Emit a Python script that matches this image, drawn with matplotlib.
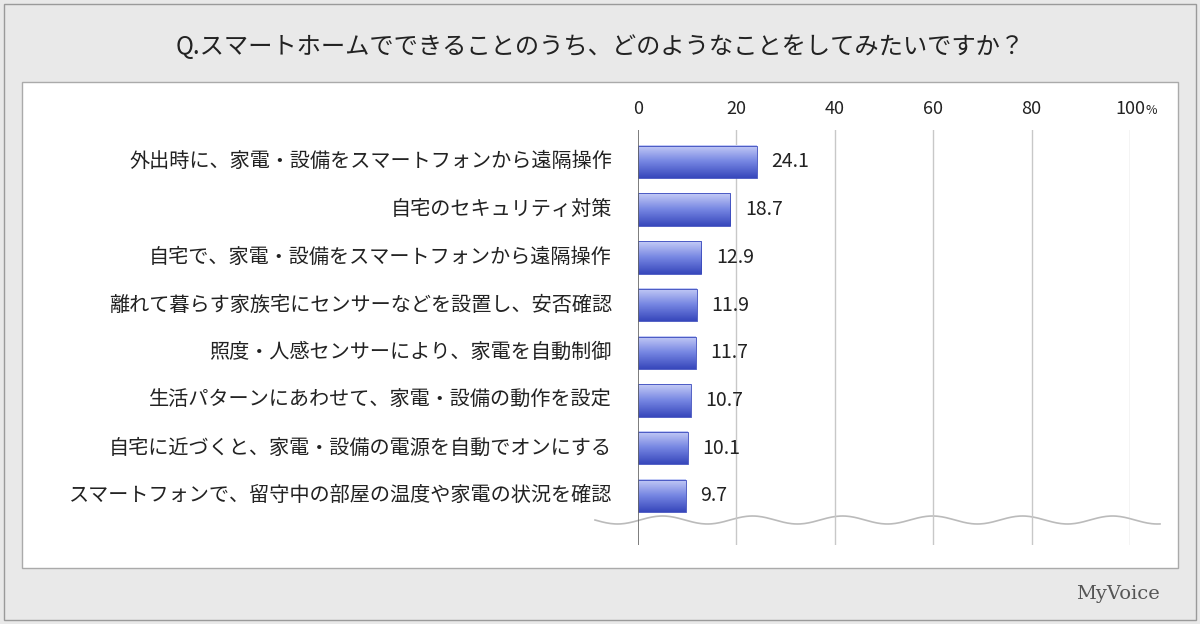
import matplotlib
matplotlib.use("Agg")
import matplotlib.pyplot as plt
import numpy as np
from matplotlib.patches import Rectangle
from matplotlib.colors import LinearSegmentedColormap

plt.rcParams["font.family"] = "Noto Sans CJK JP"

title = "Q.スマートホームでできることのうち、どのようなことをしてみたいですか？"
categories = ["外出時に、家電・設備をスマートフォンから遠隔操作", "自宅のセキュリティ対策",
              "自宅で、家電・設備をスマートフォンから遠隔操作", "離れて暮らす家族宅にセンサーなどを設置し、安否確認",
              "照度・人感センサーにより、家電を自動制御", "生活パターンにあわせて、家電・設備の動作を設定",
              "自宅に近づくと、家電・設備の電源を自動でオンにする", "スマートフォンで、留守中の部屋の温度や家電の状況を確認"]
values = [24.1, 18.7, 12.9, 11.9, 11.7, 10.7, 10.1, 9.7]
ticks = [0, 20, 40, 60, 80, 100]

fig = plt.figure(figsize=(12, 6.24), dpi=100)
fig.patch.set_facecolor("#e9e9e9")
bg = fig.add_axes([0, 0, 1, 1]); bg.set_xlim(0, 1200); bg.set_ylim(624, 0); bg.axis("off")
bg.add_patch(Rectangle((4, 4), 1192, 616, fc="#e9e9e9", ec="#9a9a9a", lw=1))
bg.add_patch(Rectangle((22, 82), 1156, 486, fc="white", ec="#aaaaaa", lw=1))
bg.text(600, 47, title, ha="center", va="center", fontsize=17.5, color="#222")
bg.text(1160, 594, "MyVoice", ha="right", va="center", fontsize=14, color="#555", family="DejaVu Serif")
xs = np.linspace(595, 1160, 400)
bg.plot(xs, 520 + 4*np.sin((xs-595)/90*2*np.pi), color="#bbbbbb", lw=1.2)

ax = fig.add_axes([638/1200, 1-545/624, 492/1200, 415/624])
ax.set_facecolor("none")
for s in ax.spines.values(): s.set_visible(False)
ax.set_xticks([]); ax.set_yticks([])
for t in ticks[1:]:
    ax.axvline(t, color="#c8c8c8", lw=1, zorder=0)
ax.axvline(0, color="#666", lw=1.2, zorder=3)
grad = np.linspace(0, 1, 50).reshape(-1, 1)
cmap = LinearSegmentedColormap.from_list("b", ["#c4cbf6", "#7585e2", "#3848bc"])
for i, (c, v) in enumerate(zip(categories, values)):
    ax.imshow(grad, extent=(0, v, i+0.34, i-0.34), cmap=cmap, aspect="auto", zorder=2)
    ax.add_patch(Rectangle((0, i-0.34), v, 0.68, fill=False, ec="#3848bc", lw=0.6, zorder=2))
    ax.text(v+3, i, f"{v}", va="center", ha="left", fontsize=14, color="#222")
    ax.text(-5.3, i, c, va="center", ha="right", fontsize=14.5, color="#222")
for t in ticks:
    if t == 100:
        ax.text(t, -1.12, "100", ha="center", va="center", fontsize=13, color="#222")
        ax.text(t+4.3, -1.07, "%", ha="center", va="center", fontsize=9, color="#222")
    else:
        ax.text(t, -1.12, str(t), ha="center", va="center", fontsize=13, color="#222")
ax.set_xlim(0, 100)
ax.set_ylim(len(values)-1+1.03, -0.67)
fig.savefig("out.png", dpi=100)
